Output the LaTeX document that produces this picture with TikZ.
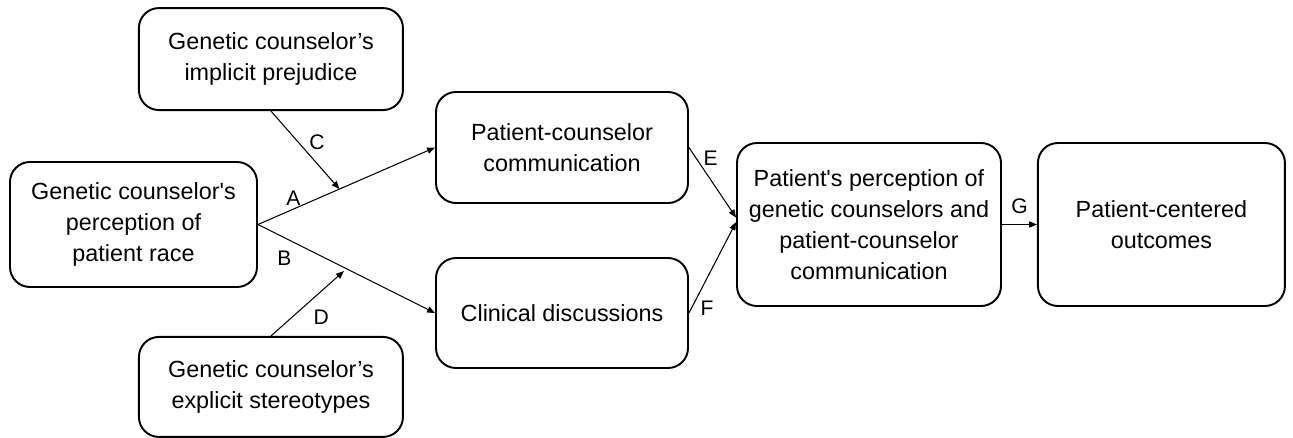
\documentclass[tikz,border=0pt]{standalone}
\usepackage{fontspec}
\setmainfont{Liberation Sans}
\usetikzlibrary{positioning,arrows.meta}

\begin{document}
\begin{tikzpicture}[
  node distance=1.0cm,
  caja/.style={draw, line width=1.1pt, rounded corners=0.4cm, minimum width=5.28cm,
               minimum height=2.04cm, align=center, inner sep=2pt,
               font=\fontsize{13.3}{17.6}\selectfont},
  flecha/.style={-{Triangle[length=4.5pt,width=3.6pt]}, line width=0.6pt},
  etiq/.style={font=\fontsize{12}{13}\selectfont, inner sep=1pt}
]
  \useasboundingbox (0,0) rectangle (25.86,8.74);

  \node[caja, minimum width=4.94cm, minimum height=2.5cm] (race) at (2.67,4.25)
    {Genetic counselor\textquotesingle s\\perception of\\patient race};
  \node[caja, above right=1.0cm and -2.4cm of race] (imp) {Genetic counselor’s\\implicit prejudice};
  \node[caja, below right=0.96cm and -2.4cm of race, minimum height=2.0cm] (expl) {Genetic counselor’s\\explicit stereotypes};
  \node[caja, minimum width=5.04cm, minimum height=2.22cm] (comm) at (11.24,5.79) {Patient-counselor\\communication};
  \node[caja, minimum width=5.04cm, minimum height=2.2cm] (clin) at (11.24,2.48) {Clinical discussions};
  \node[caja, minimum height=3.26cm] (perc) at (17.38,4.25)
    {Patient\textquotesingle s perception of\\genetic counselors and\\patient-counselor\\communication};
  \node[caja, right=0.7cm of perc, minimum width=4.94cm, minimum height=3.26cm] (out) {Patient-centered\\outcomes};

  \draw[flecha] (race.east) -- coordinate[pos=0.46] (mA) node[etiq, pos=0.2, above=1pt] {A} (comm.west);
  \draw[flecha] (race.east) -- coordinate[pos=0.5] (mB) node[etiq, pos=0.15, below=6pt] {B} (clin.west);
  \draw[flecha] (imp.south) -- node[etiq, pos=0.4, right=5pt] {C} (mA);
  \draw[flecha, shorten >=2pt] (expl.north) -- node[etiq, pos=0.28, right=11pt] {D} (mB);
  \draw[flecha] (comm.east) -- node[etiq, pos=0.15, right=3pt] {E} (perc.177);
  \draw[flecha] (clin.east) -- node[etiq, pos=0.05, right=4pt] {F} (perc.179);
  \draw[flecha] (perc.east) -- node[etiq, above=5pt] {G} (out.west);
\end{tikzpicture}
\end{document}
